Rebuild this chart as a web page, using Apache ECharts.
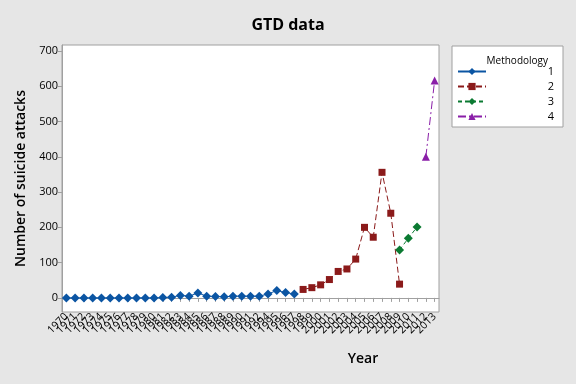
<!DOCTYPE html>
<html>
<head>
<meta charset="utf-8">
<script src="https://cdn.jsdelivr.net/npm/echarts@6/dist/echarts.min.js"></script>
<style>html,body{margin:0;padding:0;background:#e6e6e6;}#c{width:576px;height:384px;}</style>
</head>
<body>
<div id="c"></div>
<script>
const years = ['1970','1971','1972','1973','1974','1975','1976','1977','1978','1979','1980','1981','1982','1983','1984','1985','1986','1987','1988','1989','1990','1991','1992','1994','1995','1996','1997','1998','1999','2000','2001','2002','2003','2004','2005','2006','2007','2008','2009','2010','2011','2012','2013'];
const m1Years = ['1970','1971','1972','1973','1974','1975','1976','1977','1978','1979','1980','1981','1982','1983','1984','1985','1986','1987','1988','1989','1990','1991','1992','1994','1995','1996','1997'];
const m1Values = [0,0,0,0,0,0,0,0,0,0,0,1,2,7,5,14,5,4,3,5,5,5,5,11,21,15,11];
const m2Years = ['1998','1999','2000','2001','2002','2003','2004','2005','2006','2007','2008','2009'];
const m2Values = [24,29,37,52,75,82,110,200,172,356,240,39];
const m3Years = ['2009','2010','2011'];
const m3Values = [136,169,201];
const m4Years = ['2012','2013'];
const m4Values = [400,616];
const yTicks = [0,100,200,300,400,500,600,700];

const FONT = '"Open Sans", "Noto Sans", sans-serif';
function pairs(ys, vs){ return ys.map((y,i)=>[y, vs[i]]); }

const chart = echarts.init(document.getElementById('c'));
chart.setOption({
  backgroundColor: '#e6e6e6',
  animation: false,
  textStyle: {fontFamily: FONT},
  title: [
    {text: 'GTD data', left: 'center', top: 12, textStyle: {fontFamily: FONT, fontSize: 16, fontWeight: 'bold', color: '#000'}},
    {text: 'Methodology', right: 23, top: 51, textStyle: {fontFamily: FONT, fontSize: 10, fontWeight: 'normal', color: '#000'}}
  ],
  legend: {
    orient: 'vertical', left: 452, top: 46,
    padding: [20, 9, 5, 5],
    backgroundColor: '#fff', borderColor: '#a0a0a0', borderWidth: 1,
    itemWidth: 28, itemHeight: 9, itemGap: 4,
    data: ['1','2','3','4'],
    formatter: n => '{a|' + n + '}',
    textStyle: {fontFamily: FONT, fontSize: 11, color: '#000', rich: {a: {width: 63, align: 'right', fontSize: 11, fontFamily: FONT}}}
  },
  grid: {left: 62, right: 137, top: 45, bottom: 72, show: true, backgroundColor: '#fff', borderColor: '#a0a0a0', borderWidth: 1, containLabel: false},
  xAxis: {
    type: 'category', data: years, boundaryGap: true,
    name: 'Year', nameLocation: 'middle', nameGap: 40,
    nameTextStyle: {fontFamily: FONT, fontSize: 14, fontWeight: 600, color: '#000', padding: [0,0,0,225]},
    axisLine: {show: true, lineStyle: {color: '#a0a0a0'}},
    axisTick: {show: true, alignWithLabel: true, length: 4, lineStyle: {color: '#a0a0a0'}},
    axisLabel: {interval: 0, rotate: 45, fontSize: 10.5, color: '#000', margin: 3, fontFamily: FONT},
    splitLine: {show: false}
  },
  yAxis: {
    type: 'value', min: -40, max: 717,
    name: 'Number of suicide attacks', nameLocation: 'middle', nameGap: 27,
    nameTextStyle: {fontFamily: FONT, fontSize: 14, fontWeight: 600, color: '#000'},
    axisLine: {show: true, lineStyle: {color: '#a0a0a0'}},
    axisTick: {show: true, length: 4, customValues: yTicks, lineStyle: {color: '#a0a0a0'}},
    axisLabel: {customValues: yTicks, fontSize: 11, color: '#000', margin: 4, fontFamily: FONT},
    splitLine: {show: false}
  },
  series: [
    {name: '1', type: 'line', data: pairs(m1Years, m1Values), symbol: 'diamond', symbolSize: 9,
     itemStyle: {color: '#0b55a3'}, lineStyle: {color: '#0b55a3', width: 1, type: 'solid'}},
    {name: '2', type: 'line', data: pairs(m2Years, m2Values), symbol: 'rect', symbolSize: 7,
     itemStyle: {color: '#8b1a1a'}, lineStyle: {color: '#8b1a1a', width: 1, type: [6,3]}},
    {name: '3', type: 'line', data: pairs(m3Years, m3Values), symbol: 'diamond', symbolSize: 9,
     itemStyle: {color: '#0b7a32'}, lineStyle: {color: '#0b7a32', width: 1, type: [4,3]}},
    {name: '4', type: 'line', data: pairs(m4Years, m4Values), symbol: 'triangle', symbolSize: 8,
     itemStyle: {color: '#8a1fa8'}, lineStyle: {color: '#8a1fa8', width: 1, type: [8,3,2,3]}}
  ]
});
</script>
</body>
</html>
